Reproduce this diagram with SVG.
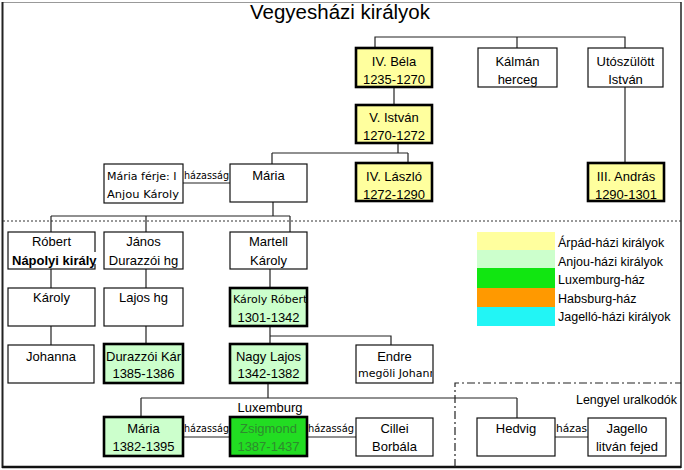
<svg xmlns="http://www.w3.org/2000/svg" width="684" height="470" viewBox="0 0 684 470">
<defs>
<style>
.t{font-family:"Liberation Sans",Arial,sans-serif;font-size:13px;fill:#000;text-anchor:middle}
.tl{font-family:"Liberation Sans",Arial,sans-serif;font-size:13px;fill:#000}
.v{font-family:"DejaVu Sans",Verdana,sans-serif;font-size:11px;fill:#000}
.n{fill:#fff;stroke:#111;stroke-width:1.2}
.k{stroke:#000;stroke-width:2.6}
.y{fill:#ffff9e}
.g{fill:#ccffcc}
.G{fill:#22dd22}
.c{fill:none;stroke:#222;stroke-width:1.2}
.lg{font-family:"Liberation Sans",Arial,sans-serif;font-size:12.5px;fill:#000}
</style>
<clipPath id="cpKR"><rect x="230" y="288" width="76" height="38"/></clipPath>
<clipPath id="cpEn"><rect x="356" y="345" width="76" height="38"/></clipPath>
<clipPath id="cpFe"><rect x="104" y="164" width="78" height="39"/></clipPath>
</defs>
<rect width="684" height="470" fill="#fff"/>
<g id="frame">
<line x1="2" y1="2.5" x2="681" y2="2.5" stroke="#999" stroke-width="1"/>
<line x1="2.5" y1="2" x2="2.5" y2="468" stroke="#222" stroke-width="2"/>
<line x1="681" y1="2" x2="681" y2="468" stroke="#222" stroke-width="1.5"/>
<line x1="2" y1="467" x2="681" y2="467" stroke="#111" stroke-width="2.5"/>
</g>
<text id="title" x="340" y="19" font-family="Liberation Sans, Arial, sans-serif" font-size="20" text-anchor="middle" textLength="180" lengthAdjust="spacingAndGlyphs">Vegyesházi királyok</text>
<g id="dividers">
<line x1="3" y1="221" x2="681" y2="221" stroke="#333" stroke-width="1" stroke-dasharray="2,2"/>
<path d="M455,467 V383 H681" fill="none" stroke="#222" stroke-width="1.2" stroke-dasharray="8,3,2,3"/>
</g>
<g id="connectors" class="c">
<path d="M375,48 V37 H625 V48 M517,37 V48"/>
<path d="M394,87 V105"/>
<path d="M398,143 V153 M272,153 H408 M272,153 V164 M408,153 V163"/>
<path d="M625,87 V163"/>
<path d="M183,183 H230"/>
<path d="M273,202 V216 M51,216 H290 M51,216 V232 M146,216 V232 M290,216 V232"/>
<path d="M51,269 V288 M146,269 V288 M270,269 V288"/>
<path d="M51,326 V345 M146,326 V344 M270,326 V344 M270,336 H391 V345"/>
<path d="M268,383 V398 M141,398 H517 M141,398 V417 M517,398 V418"/>
<path d="M183,437 H230 M307,437 H356 M555,437 H588"/>
</g>
<g id="labels">
<text class="v" x="184" y="179" font-size="10" textLength="45" lengthAdjust="spacingAndGlyphs">házasság</text>
<text class="v" x="184" y="432" font-size="10" textLength="45" lengthAdjust="spacingAndGlyphs">házasság</text>
<text class="v" x="308" y="432" font-size="10" textLength="46" lengthAdjust="spacingAndGlyphs">házasság</text>
<text class="v" x="556" y="432" font-size="10" textLength="31" lengthAdjust="spacingAndGlyphs">házas</text>
<text class="t" x="270" y="412">Luxemburg</text>
<text class="tl" x="576" y="404" font-size="12" textLength="101" lengthAdjust="spacingAndGlyphs">Lengyel uralkodók</text>
</g>
<g id="bela"><rect class="k y" x="356" y="48" width="76" height="39"/><text class="t" x="394" y="66">IV. Béla</text><text class="t" x="394" y="84">1235-1270</text></g>
<g id="kalman"><rect class="n" x="478" y="48" width="79" height="39"/><text class="t" x="517.5" y="66">Kálmán</text><text class="t" x="517.5" y="84">herceg</text></g>
<g id="utoszulott"><rect class="n" x="588" y="48" width="75" height="39"/><text class="t" x="625.5" y="66">Utószülött</text><text class="t" x="625.5" y="84">István</text></g>
<g id="istvan"><rect class="k y" x="356" y="105" width="76" height="38"/><text class="t" x="394" y="121.5">V. István</text><text class="t" x="394" y="139.5">1270-1272</text></g>
<g id="laszlo"><rect class="k y" x="356" y="163" width="76" height="38"/><text class="t" x="394" y="181">IV. László</text><text class="t" x="394" y="199">1272-1290</text></g>
<g id="andras"><rect class="k y" x="588" y="163" width="76" height="38"/><text class="t" x="626" y="181">III. András</text><text class="t" x="626" y="199">1290-1301</text></g>
<g id="maria"><rect class="n" x="230" y="164" width="77" height="38"/><text class="t" x="268.5" y="179.5">Mária</text></g>
<g id="ferje"><rect class="n" x="104" y="164" width="79" height="39"/><text class="v" x="107" y="180" clip-path="url(#cpFe)">Mária férje: I</text><text class="v" x="107" y="198" textLength="72" lengthAdjust="spacingAndGlyphs">Anjou Károly</text></g>
<g id="robert"><rect class="n" x="8" y="232" width="87" height="37"/><rect x="11" y="252" width="88" height="12" fill="#fff"/><text class="t" x="51.5" y="246">Róbert</text><text class="tl" x="12" y="265" font-weight="bold" font-size="12.5">Nápolyi király</text></g>
<g id="janos"><rect class="n" x="104" y="232" width="79" height="37"/><text class="t" x="143.5" y="246">János</text><text class="t" x="143.5" y="265">Durazzói hg</text></g>
<g id="martell"><rect class="n" x="230" y="232" width="77" height="37"/><text class="t" x="268.5" y="246">Martell</text><text class="t" x="268.5" y="265">Károly</text></g>
<g id="karoly"><rect class="n" x="8" y="288" width="87" height="38"/><text class="t" x="51.5" y="301.5">Károly</text></g>
<g id="lajoshg"><rect class="n" x="104" y="288" width="79" height="38"/><text class="t" x="143.5" y="301.5">Lajos hg</text></g>
<g id="karolyrobert"><rect class="k g" x="230" y="288" width="77" height="38"/><text class="v" x="233" y="303" clip-path="url(#cpKR)">Károly Róbert</text><text class="t" x="268.5" y="321.5">1301-1342</text></g>
<g id="johanna"><rect class="n" x="8" y="345" width="86" height="38"/><text class="t" x="51" y="360.5">Johanna</text></g>
<g id="durazzoi"><rect class="k g" x="104" y="344" width="79" height="39"/><text class="tl" x="106" y="360.5">Durazzói Kár</text><text class="t" x="143.5" y="377.5">1385-1386</text></g>
<g id="nagylajos"><rect class="k g" x="230" y="344" width="77" height="39"/><text class="t" x="268.5" y="360.5">Nagy Lajos</text><text class="t" x="268.5" y="377.5">1342-1382</text></g>
<g id="endre"><rect class="n" x="356" y="345" width="77" height="38"/><text class="t" x="394.5" y="360.5">Endre</text><text class="v" x="358" y="377" font-size="9.5" clip-path="url(#cpEn)">megöli Johanna</text></g>
<g id="maria1382"><rect class="k g" x="104" y="417" width="79" height="39"/><text class="t" x="143.5" y="432.5">Mária</text><text class="t" x="143.5" y="450.5">1382-1395</text></g>
<g id="zsigmond"><rect class="k G" x="230" y="417" width="77" height="39"/><text class="t" x="268.5" y="432.5" style="fill:#2e8b2e">Zsigmond</text><text class="t" x="268.5" y="450.5" style="fill:#2e8b2e">1387-1437</text></g>
<g id="cillei"><rect class="n" x="356" y="418" width="77" height="38"/><text class="t" x="394.5" y="432.5">Cillei</text><text class="t" x="394.5" y="450.5">Borbála</text></g>
<g id="hedvig"><rect class="n" x="477" y="418" width="78" height="38"/><text class="t" x="516" y="432.5">Hedvig</text></g>
<g id="jagello"><rect class="n" x="588" y="418" width="78" height="38"/><text class="t" x="627" y="432.5">Jagello</text><text class="t" x="627" y="450.5">litván fejed</text></g>
<g id="legend">
<rect x="477" y="232" width="78" height="18" fill="#ffff9e"/>
<rect x="477" y="250" width="78" height="18" fill="#ccffcc"/>
<rect x="477" y="268" width="78" height="20" fill="#11e611"/>
<rect x="477" y="288" width="78" height="19" fill="#ff9900"/>
<rect x="477" y="307" width="78" height="19" fill="#22f5f5"/>
<text class="lg" x="558" y="247">Árpád-házi királyok</text>
<text class="lg" x="558" y="266">Anjou-házi királyok</text>
<text class="lg" x="558" y="284">Luxemburg-ház</text>
<text class="lg" x="558" y="303">Habsburg-ház</text>
<text class="lg" x="558" y="321">Jagelló-házi királyok</text>
</g>
</svg>
